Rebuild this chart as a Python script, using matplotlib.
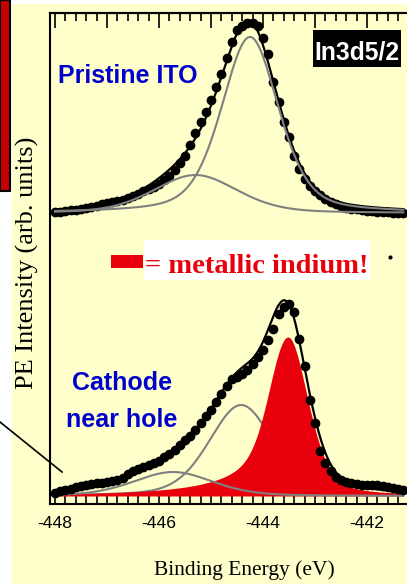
import numpy as np
import matplotlib
matplotlib.use('Agg')
import matplotlib.pyplot as plt
from matplotlib.patches import Rectangle
from matplotlib.lines import Line2D
from matplotlib.ticker import MultipleLocator

# measured spectra, binding energy axis (eV, plotted negative), 0.1 eV steps
energy = np.round(np.arange(-448.0, -441.25, 0.1), 2)

pristine = [292, 292.4, 293, 293.7, 294.5, 295.4, 296.3, 297.3, 298.3, 299.8,
            301, 302, 302.9, 303.9, 306, 308.1, 310.3, 312.6, 315, 317.5,
            320.5, 324.5, 328.5, 334.5, 340.8, 348.1, 359, 371.1, 382.1, 391.8,
            404.4, 416.8, 429.8, 446.2, 462.1, 474, 478.3, 480.9, 480.7, 478.1,
            466, 450, 422.4, 401.6, 381.9, 366.7, 348.3, 335.4, 324.9, 318.3,
            312.6, 308.8, 305, 302.5, 300.2, 297.9, 296.5, 295.5, 294.6, 293.8,
            293.2, 292.6, 292, 291.8, 291.6, 291.3, 291.1, 291]

cathode = [11.5, 12.8, 14.1, 15.4, 16.7, 17.9, 19.1, 20.2, 20.8, 21.4,
           22, 22.8, 23.6, 26.1, 30.2, 33.2, 35.3, 37, 38.6, 40.9,
           43.5, 46.6, 49.8, 53.6, 58.8, 63.8, 68.5, 74.1, 80.9, 87.6,
           94.4, 102, 109.9, 118.5, 124.9, 127.5, 130.5, 134.2, 139.7, 147.1,
           154, 163.7, 175.2, 189.8, 197.3, 200, 191.8, 165.2, 138, 104.1,
           81.5, 53, 40.9, 33.3, 27.3, 24.1, 22.1, 20.8, 20, 19.3,
           19, 19, 19, 18.2, 16.6, 16, 14.8, 13.7]

# fitted components (center, height, half width, lorentz fraction)
top_base = 291
top_centers = [-444.25, -445.3]
top_heights = [176, 38]
top_hw = [0.65, 0.95]
top_eta = [0.4, 0.3]

bot_base = 8
bot_centers = [-444.42, -445.73]
bot_heights = [91, 24]
bot_hw = [0.73, 0.9]
bot_eta = [0.3, 0.3]

# metallic In peak, asymmetric tail to the high BE side
metal_center = -443.52
metal_height = 159
metal_hw = [0.39, 0.46]       # left (gauss), right
metal_lor_hw = [0.8, 0.46]
metal_eta = [0.4, 0.4]

tick_labels = ['-448', '-446', '-444', '-442']

cream = '#FFFFCC'
red = '#E8000D'
blue = '#0000CC'
gray = '#808080'


def pv(x, c, h, hw, eta, lhw=None):
    if lhw is None:
        lhw = hw
    g = np.exp(-np.log(2) * ((x - c) / hw) ** 2)
    l = 1.0 / (1.0 + ((x - c) / lhw) ** 2)
    return h * ((1 - eta) * g + eta * l)


def metal(x):
    left = pv(x, metal_center, metal_height, metal_hw[0], metal_eta[0], metal_lor_hw[0])
    right = pv(x, metal_center, metal_height, metal_hw[1], metal_eta[1], metal_lor_hw[1])
    return np.where(x < metal_center, left, right)


W, H = 407, 584
fig = plt.figure(figsize=(W / 100, H / 100), dpi=100)
fig.patch.set_facecolor('white')


def fx(x):
    return x / W


def fy(y):
    return 1 - y / H


fig.patches.append(Rectangle((fx(12), 0), 1 - fx(12), fy(4), transform=fig.transFigure,
                             facecolor=cream, edgecolor='none', zorder=-2))
fig.patches.append(Rectangle((0, fy(191)), fx(10), fy(0) - fy(191), transform=fig.transFigure,
                             facecolor='#C80000', edgecolor='black', lw=1.5, zorder=-1))

ax = fig.add_axes([fx(50), fy(504), 1 - fx(50), fy(13) - fy(504)])
ax.set_facecolor('none')
ax.set_zorder(1)

xf = np.linspace(-448.0, -441.3, 400)

# pristine ITO
top_comps = [pv(xf, c, h, w, e) for c, h, w, e in zip(top_centers, top_heights, top_hw, top_eta)]
ax.plot(xf, top_base + sum(top_comps), color='black', lw=1.6, zorder=3)
ax.plot(energy, pristine, 'o', color='black', ms=6, zorder=4)
for comp in top_comps:
    ax.plot(xf, top_base + comp, color=gray, lw=1.5, zorder=5)

# cathode near hole
bot_comps = [pv(xf, c, h, w, e) for c, h, w, e in zip(bot_centers, bot_heights, bot_hw, bot_eta)]
m = metal(xf)
ax.plot(xf, bot_base + bot_comps[0], color=gray, lw=1.5, zorder=2)
ax.fill_between(xf, bot_base, bot_base + m, color=red, lw=0, zorder=2.5)
ax.plot(xf, bot_base + bot_comps[1], color=gray, lw=1.5, zorder=2.6)
ax.plot(xf, bot_base + sum(bot_comps) + m, color='black', lw=1.6, zorder=3)
ax.plot(energy, cathode, 'o', color='black', ms=6, zorder=4)

ax.set_xlim(-448.096, -441.23)
ax.set_ylim(0, 491)
ax.spines['right'].set_visible(False)
for s in ['left', 'bottom', 'top']:
    ax.spines[s].set_linewidth(1.5)
ax.set_yticks([])
ax.set_xticks([-448, -446, -444, -442])
ax.set_xticklabels(tick_labels, family='Liberation Sans', fontsize=12.6)
ax.xaxis.set_minor_locator(MultipleLocator(0.2))
ax.tick_params(axis='x', which='both', direction='in', length=6, width=1.2, pad=9,
               top=False, bottom=True)

sec = ax.secondary_xaxis('top')
sec.xaxis.set_major_locator(MultipleLocator(1))
sec.xaxis.set_minor_locator(MultipleLocator(0.2))
sec.tick_params(which='major', direction='in', length=11, width=1.2, labeltop=False)
sec.tick_params(which='minor', direction='in', length=6, width=1.2)
sec.spines['top'].set_linewidth(1.5)

sans = 'Liberation Sans'
fig.text(fx(58), fy(83), 'Pristine ITO', color=blue, fontsize=18, fontweight='bold',
         family=sans, ha='left', va='baseline')
fig.text(fx(122), fy(390), 'Cathode', color=blue, fontsize=18, fontweight='bold',
         family=sans, ha='center', va='baseline')
fig.text(fx(122), fy(427), 'near hole', color=blue, fontsize=18, fontweight='bold',
         family=sans, ha='center', va='baseline')

fig.patches.append(Rectangle((fx(313), fy(67)), fx(401) - fx(313), fy(30) - fy(67),
                             transform=fig.transFigure, facecolor='black', edgecolor='none', zorder=5))
fig.text(fx(357), fy(60), 'In3d5/2', color='white', fontsize=17.8, fontweight='bold',
         family=sans, ha='center', va='baseline', zorder=6)

fig.patches.append(Rectangle((fx(144), fy(280)), fx(370) - fx(144), fy(240) - fy(280),
                             transform=fig.transFigure, facecolor='white', edgecolor='none', zorder=5))
fig.patches.append(Rectangle((fx(111), fy(268)), fx(143) - fx(111), fy(255) - fy(268),
                             transform=fig.transFigure, facecolor=red, edgecolor='none', zorder=5))
fig.text(fx(145), fy(273), '= metallic indium!', color=red, fontsize=20.5, fontweight='bold',
         family='Liberation Serif', ha='left', va='baseline', zorder=6)
fig.lines.append(Line2D([fx(390)], [fy(257)], marker='o', ms=2, color='black',
                        transform=fig.transFigure))

fig.lines.append(Line2D([fx(0), fx(62)], [fy(422), fy(472)], color='black', lw=1.2,
                        transform=fig.transFigure))

fig.text(fx(27), fy(263), 'PE Intensity (arb. units)', rotation=90, fontsize=19,
         family='Liberation Serif', ha='center', va='center')
fig.text(fx(244), fy(570), 'Binding Energy (eV)', fontsize=15.5,
         family='Liberation Serif', ha='center', va='center')

fig.savefig('out.png', dpi=100)
